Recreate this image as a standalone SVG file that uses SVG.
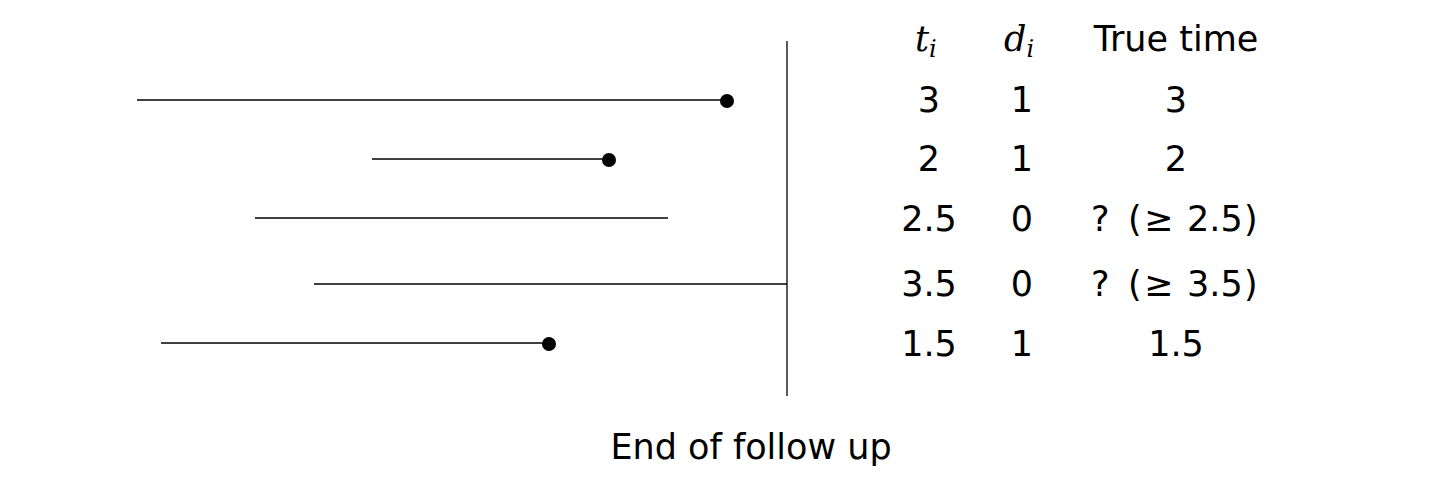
<svg xmlns="http://www.w3.org/2000/svg" width="1436" height="489" viewBox="0 0 1436 489">
<style>
.t{font-family:"DejaVu Sans",sans-serif;font-size:35px;fill:#000;text-anchor:middle}
.s{font-family:"DejaVu Sans",sans-serif;font-size:35px;fill:#000}
.m{font-family:"DejaVu Serif","Liberation Serif",serif;font-style:italic;font-size:35px;fill:#000}
.ln{stroke:#000;stroke-width:1.3;fill:none}
.dot{fill:#000}
</style>
<rect width="1436" height="489" fill="#fff"/>
<g id="connectors">
<line class="ln" x1="787" y1="41" x2="787" y2="396"/>
<line class="ln" x1="137" y1="100" x2="727" y2="100"/>
<line class="ln" x1="372" y1="159" x2="609" y2="159"/>
<line class="ln" x1="255" y1="218" x2="668" y2="218"/>
<line class="ln" x1="314" y1="284" x2="787" y2="284"/>
<line class="ln" x1="161" y1="343" x2="549" y2="343"/>
</g>
<g id="dots">
<circle class="dot" cx="727" cy="101" r="7"/>
<circle class="dot" cx="609" cy="160" r="7"/>
<circle class="dot" cx="549" cy="344" r="7"/>
</g>
<g id="table">
<text class="m" x="915" y="51">t<tspan font-size="24" dy="6">i</tspan></text>
<text class="m" x="1004" y="51">d<tspan font-size="24" dy="6">i</tspan></text>
<text class="t" x="1176" y="51">True time</text>
<text class="t" x="929" y="112">3</text><text class="t" x="1022" y="112">1</text><text class="t" x="1176" y="112">3</text>
<text class="t" x="929" y="171">2</text><text class="t" x="1022" y="171">1</text><text class="t" x="1176" y="171">2</text>
<text class="t" x="929" y="231">2.5</text><text class="t" x="1022" y="231">0</text>
<text class="s" y="231"><tspan x="1091">?</tspan><tspan x="1128">(</tspan><tspan x="1144">≥</tspan><tspan x="1187">2.5</tspan><tspan x="1244">)</tspan></text>
<text class="t" x="929" y="296">3.5</text><text class="t" x="1022" y="296">0</text>
<text class="s" y="296"><tspan x="1091">?</tspan><tspan x="1128">(</tspan><tspan x="1144">≥</tspan><tspan x="1187">3.5</tspan><tspan x="1244">)</tspan></text>
<text class="t" x="929" y="356">1.5</text><text class="t" x="1022" y="356">1</text><text class="t" x="1176" y="356">1.5</text>
</g>
<g id="label">
<text class="t" x="751" y="459">End of follow up</text>
</g>
</svg>
